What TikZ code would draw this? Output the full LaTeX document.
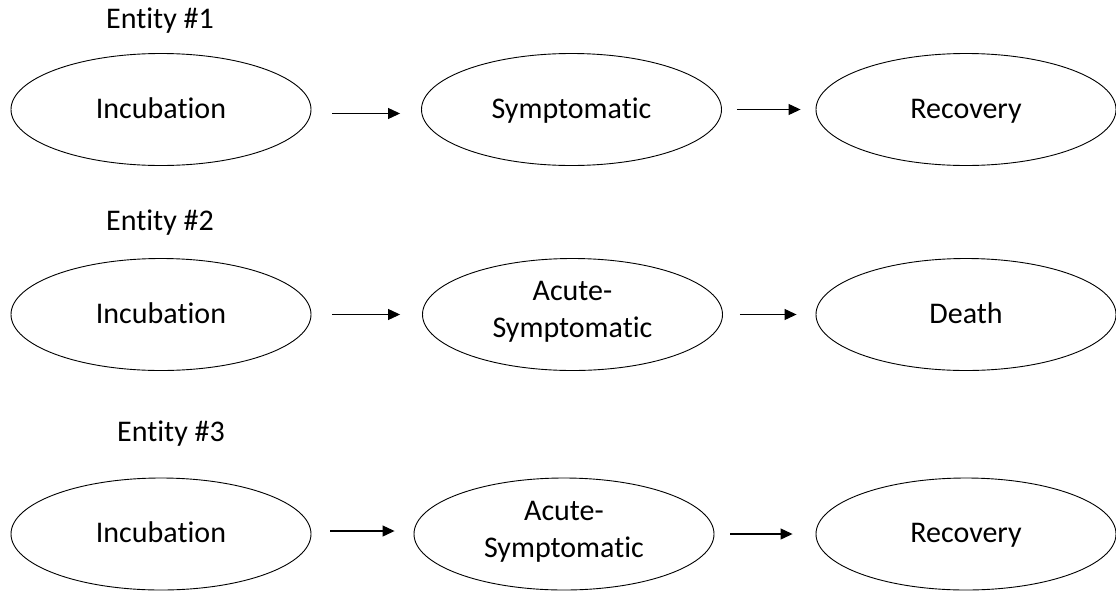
\documentclass[tikz,border=0pt]{standalone}
\usepackage{fontspec}
\setmainfont{Carlito}[Ligatures=NoCommon]
\usetikzlibrary{shapes.geometric,arrows.meta}
\newcommand\ellstrut{\rule[-10pt]{0pt}{37pt}}
\begin{document}
\begin{tikzpicture}[x=1pt,y=-1pt,
  state/.style={ellipse,draw,line width=0.9pt,inner sep=0pt,minimum width=300pt,minimum height=112pt,
    align=center,font=\fontsize{30}{37}\selectfont,
    execute at begin node=\ellstrut,execute at end node=\ellstrut},
  lbl/.style={anchor=base,font=\fontsize{30}{37}\selectfont},
  flow/.style={line width=1.1pt,-{Triangle[length=12pt,width=11pt]}}]
\useasboundingbox (0,0) rectangle (1116,592);
% labels
\node[lbl] (e1) at (160,28) {Entity \#1};
\node[lbl] (e2) at (160,230) {Entity \#2};
\node[lbl] (e3) at (171,441) {Entity \#3};
% row 1
\node[state] (a1) at (161,109.5) {Incubation};
\node[state] (b1) at (571.5,109.5) {Symptomatic};
\node[state] (c1) at (966,109.5) {Recovery};
% row 2
\node[state] (a2) at (161,314.5) {Incubation};
\node[state] (b2) at (572.5,314.5) {Acute-\\Symptomatic};
\node[state] (c2) at (966,314.5) {Death};
% row 3
\node[state] (a3) at (161,534) {Incubation};
\node[state] (b3) at (564,534) {Acute-\\Symptomatic};
\node[state] (c3) at (966,534) {Recovery};
% connectors
\draw[flow,shorten <=21pt,shorten >=21pt] ([yshift=-4pt]a1.east) -- ([yshift=-4pt]b1.west);
\draw[flow,shorten <=15pt,shorten >=15pt] (b1.east) -- (c1.west);
\draw[flow,shorten <=21pt,shorten >=22pt] (a2.east) -- (b2.west);
\draw[flow,shorten <=17pt,shorten >=19pt] (b2.east) -- (c2.west);
\draw[flow,shorten <=19pt,shorten >=19pt] ([yshift=3pt]a3.east) -- ([yshift=3pt]b3.west);
\draw[flow,shorten <=16pt,shorten >=23pt] (b3.east) -- (c3.west);
\end{tikzpicture}
\end{document}
